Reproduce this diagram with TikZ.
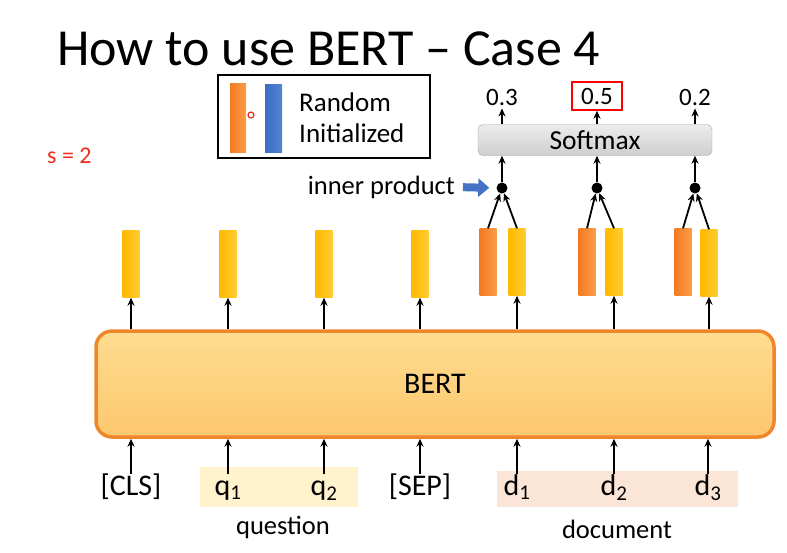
\documentclass[tikz,border=0pt]{standalone}
\usepackage{fontspec}
\setmainfont{Carlito}
\usetikzlibrary{arrows.meta, positioning, calc}

\definecolor{barorange}{HTML}{F47A20}
\definecolor{barorangelt}{HTML}{FA9D4A}
\definecolor{baryellow}{HTML}{FFB900}
\definecolor{baryellowlt}{HTML}{FFCC33}
\definecolor{barblue}{HTML}{3B6CC4}
\definecolor{barbluelt}{HTML}{5383D4}
\definecolor{bertline}{HTML}{F0862A}
\definecolor{berttop}{HTML}{FFDC90}
\definecolor{bertbot}{HTML}{FCC76E}
\definecolor{qfill}{HTML}{FFF2CC}
\definecolor{dfill}{HTML}{FBE5D6}
\definecolor{ipblue}{HTML}{4472C4}
\definecolor{sred}{HTML}{E8301C}

\begin{document}
\begin{tikzpicture}[
    x=1pt, y=-1pt,
    >={Stealth[length=8pt,width=7pt]}, % small black arrow heads
    link/.style={->, line width=1.8pt},
    ybar/.style={rectangle, inner sep=0pt, minimum width=17pt, minimum height=67pt,
                 left color=baryellow, right color=baryellowlt},
    obar/.style={rectangle, inner sep=0pt, minimum width=17pt, minimum height=67pt,
                 left color=barorange, right color=barorangelt},
    tok/.style={font=\fontsize{30}{32}\selectfont, text height=20pt, text depth=6pt, inner sep=1pt},
    val/.style={font=\fontsize{25}{27}\selectfont, inner sep=3pt},
    dot/.style={fill=black, circle, inner sep=0pt, minimum size=11pt}
]
\useasboundingbox (0,0) rectangle (787,552);

% Title and step
\node[anchor=base west, inner sep=0pt, font=\fontsize{52}{56}\selectfont] (title) at (57,65) {How to use BERT -- Case 4};
\node[anchor=west, inner sep=0pt, text=sred, font=\fontsize{24}{26}\selectfont] (step) at (47,156) {s = 2};

% Legend
\draw[line width=1.6pt] (218,75) rectangle (430,158);
\shade[left color=barorange, right color=barorangelt] (230,83) rectangle (246,152);
\shade[left color=barblue, right color=barbluelt] (265,84) rectangle (282,152);
\draw[sred, line width=1.2pt] (251,115) circle (3pt);
\node[anchor=west, align=left, inner sep=0pt, font=\fontsize{27}{31}\selectfont] (legend) at (299,118) {Random\\Initialized};

% BERT block
\node[draw=bertline, line width=3.5pt, rounded corners=16pt, top color=berttop, bottom color=bertbot,
      minimum width=678pt, minimum height=106pt, font=\fontsize{30}{32}\selectfont] (bert) at (435,384) {BERT};

% Input highlights
\fill[qfill] (200,467) rectangle (358,507);
\fill[dfill] (497,471) rectangle (738,507);

% Input tokens
\node[tok] (t1) at (131,488) {[CLS]};
\node[tok] (t2) at (228,488) {q\textsubscript{1}};
\node[tok] (t3) at (324,488) {q\textsubscript{2}};
\node[tok] (t4) at (420,488) {[SEP]};
\node[tok] (t5) at (517,488) {d\textsubscript{1}};
\node[tok] (t6) at (614,488) {d\textsubscript{2}};
\node[tok] (t7) at (708,488) {d\textsubscript{3}};

\node[font=\fontsize{26.5}{28}\selectfont] (question) at (283,527) {question};
\node[font=\fontsize{26.5}{28}\selectfont] (document) at (617,529) {document};

\foreach \i in {1,...,7}
  \draw[link] (t\i.north) -- (t\i.north |- bert.south);

% Output vectors
\node[ybar] (c1) at (131,264) {};
\node[ybar] (c2) at (228,264) {};
\node[ybar] (c3) at (324,264) {};
\node[ybar] (c4) at (420,264) {};
\node[ybar] (c5) at (517,262) {};
\node[ybar] (c6) at (614,262) {};
\node[ybar] (c7) at (709,263) {};

% Random initialized vectors
\node[obar] (r1) at (488,262) {};
\node[obar] (r2) at (587,262) {};
\node[obar] (r3) at (683,262) {};

\foreach \i in {1,...,7}
  \draw[link] (bert.north -| c\i.south) -- (c\i.south);

% Inner products
\node[dot] (p1) at (502,188) {};
\node[dot] (p2) at (597,188) {};
\node[dot] (p3) at (695,188) {};

\foreach \i/\j in {1/5, 2/6, 3/7} {
  \draw[link] (r\i.north) -- (p\i);
  \draw[link] (c\j.north) -- (p\i);
}

\node[anchor=east, inner sep=0pt, font=\fontsize{26.5}{28}\selectfont] (ip) at (455,187) {inner product};
\draw[ipblue, line width=8pt, -{Triangle[length=11pt,width=18pt]}, shorten <=8pt, shorten >=7pt] (ip.east) -- (p1.west);

% Softmax
\node[draw=gray!70, rounded corners=5pt, top color=gray!15, bottom color=gray!38,
      minimum width=234pt, minimum height=31pt, font=\fontsize{27.5}{29}\selectfont] (softmax) at (595,140) {Softmax};

\foreach \i in {1,2,3}
  \draw[link] (p\i) -- (softmax.south -| p\i);

% Scores
\node[val] (o1) at (502,97) {0.3};
\node[val, draw=red, line width=1.5pt, minimum width=50pt, minimum height=28pt] (o2) at (597,96) {0.5};
\node[val] (o3) at (695,97) {0.2};

\foreach \i in {1,2,3}
  \draw[link] (softmax.north -| o\i) -- (o\i.south);

\end{tikzpicture}
\end{document}
